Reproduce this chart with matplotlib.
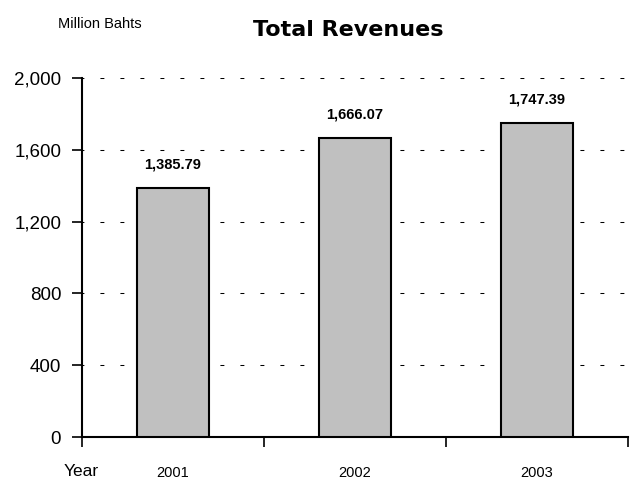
import matplotlib
matplotlib.use("Agg")
import matplotlib.pyplot as plt
from matplotlib.ticker import FuncFormatter, FixedLocator

years = ["2001", "2002", "2003"]
revenues = [1385.79, 1666.07, 1747.39]
y_ticks = [0, 400, 800, 1200, 1600, 2000]

plt.rcParams["font.family"] = ["Liberation Sans", "DejaVu Sans"]

fig = plt.figure(figsize=(6.30, 4.79), dpi=100)
W, H = 630, 479
ax = fig.add_axes([82 / W, 1 - 437 / H, (628 - 82) / W, (437 - 78) / H])

x = list(range(len(years)))
ax.bar(x, revenues, width=0.4, color="#c0c0c0", edgecolor="black", linewidth=1.5, zorder=3)

ax.set_xlim(-0.5, len(years) - 0.5)
ax.set_ylim(0, 2000)

# sparse dashed horizontal gridlines behind the bars
ax.yaxis.set_major_locator(FixedLocator(y_ticks))
ax.yaxis.grid(True, linestyle=(2, (3.8, 15.4)), color="black", linewidth=0.75, zorder=0)
ax.set_axisbelow(True)
ax.yaxis.set_major_formatter(FuncFormatter(lambda v, p: f"{int(v):,}"))
ax.tick_params(axis="y", direction="out", length=7, width=1.2, labelsize=13.5, pad=8)

# category boundaries as x ticks, labels at category centers
ax.xaxis.set_major_locator(FixedLocator([-0.5, 0.5, 1.5, 2.5]))
ax.xaxis.set_minor_locator(FixedLocator(x))
ax.set_xticklabels([])
ax.set_xticklabels(years, minor=True)
ax.tick_params(axis="x", which="major", direction="out", length=7, width=1.2)
ax.tick_params(axis="x", which="minor", length=0, labelsize=10.5, pad=21)

for s in ["top", "right"]:
    ax.spines[s].set_visible(False)
ax.spines["left"].set_linewidth(1.5)
ax.spines["bottom"].set_linewidth(1.5)

for xi, v in zip(x, revenues):
    ax.annotate(f"{v:,.2f}", (xi, v), xytext=(0, 12), textcoords="offset points",
                ha="center", va="bottom", fontsize=10.5, fontweight="bold")

fig.text(348 / W, 1 - 30 / H, "Total Revenues", ha="center", va="center",
         fontsize=16, fontweight="bold", family=["DejaVu Sans"])
fig.text(100 / W, 1 - 24 / H, "Million Bahts", ha="center", va="center", fontsize=10.5)
fig.text(81 / W, 1 - 471 / H, "Year", ha="center", va="center", fontsize=12.5)

fig.savefig("out.png", dpi=100)
